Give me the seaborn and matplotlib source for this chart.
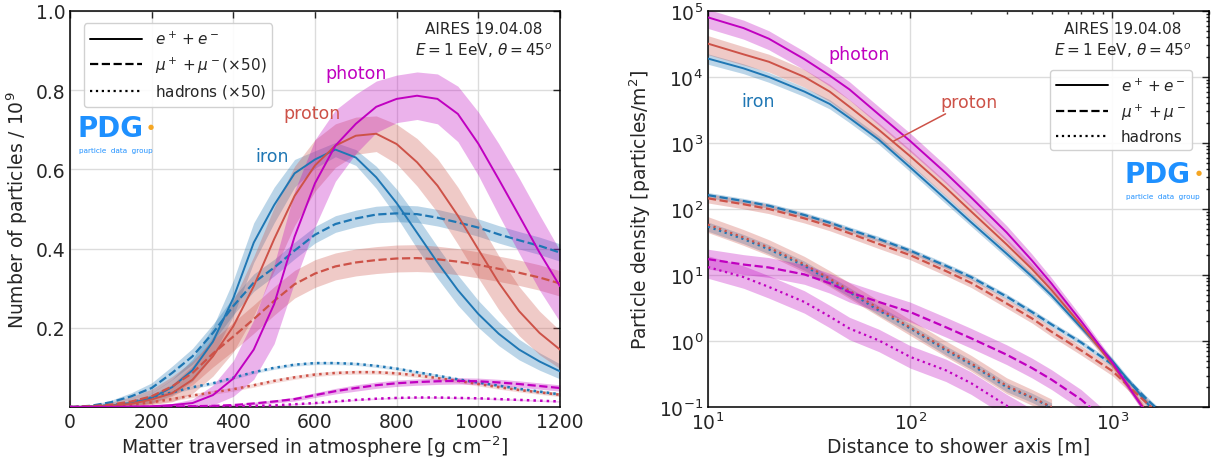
"""Air-shower longitudinal and lateral profiles (AIRES), seaborn version."""

import numpy as np
import matplotlib
matplotlib.use("Agg")
import matplotlib.pyplot as plt
from matplotlib.lines import Line2D
import seaborn as sns

# ---------------------------------------------------------------- data
# longitudinal profile, depth in g/cm^2, N / 1e9 (muons, hadrons x50)
depth = [0, 50, 100, 150, 200, 250, 300, 350, 400, 450, 500, 550, 600,
         650, 700, 750, 800, 850, 900, 950, 1000, 1050, 1100, 1150, 1200]

iron_ee = [0, 0.001, 0.004, 0.01, 0.023, 0.05, 0.093, 0.165, 0.275, 0.415, 0.51,
           0.59, 0.625, 0.65, 0.63, 0.58, 0.515, 0.44, 0.365, 0.295, 0.235,
           0.185, 0.145, 0.115, 0.09]
proton_ee = [0, 0.001, 0.003, 0.008, 0.019, 0.035, 0.069, 0.128, 0.204, 0.305,
             0.424, 0.533, 0.61, 0.66, 0.685, 0.69, 0.664, 0.618, 0.559, 0.483,
             0.398, 0.314, 0.242, 0.187, 0.145]
photon_ee = [0, 0, 0, 0.001, 0.002, 0.005, 0.01, 0.03, 0.072, 0.145, 0.26, 0.43,
             0.565, 0.66, 0.715, 0.758, 0.778, 0.786, 0.778, 0.74, 0.665, 0.575,
             0.483, 0.39, 0.305]
iron_ee_err = [0, 0.001, 0.003, 0.007, 0.013, 0.02, 0.028, 0.037, 0.045, 0.05,
               0.045, 0.035, 0.022, 0.018, 0.02, 0.028, 0.035, 0.04, 0.04, 0.038,
               0.034, 0.03, 0.026, 0.022, 0.019]
proton_ee_err = [0, 0.001, 0.003, 0.007, 0.013, 0.022, 0.035, 0.05, 0.065, 0.075,
                 0.08, 0.075, 0.065, 0.055, 0.047, 0.045, 0.05, 0.06, 0.068, 0.072,
                 0.072, 0.068, 0.062, 0.055, 0.048]
photon_ee_err = [0, 0, 0, 0.001, 0.002, 0.004, 0.01, 0.025, 0.045, 0.075, 0.1,
                 0.115, 0.11, 0.09, 0.075, 0.065, 0.06, 0.06, 0.063, 0.07, 0.08,
                 0.09, 0.095, 0.095, 0.09]

iron_mu = [0, 0.003, 0.012, 0.027, 0.048, 0.086, 0.128, 0.187, 0.255, 0.314,
           0.352, 0.395, 0.435, 0.462, 0.476, 0.486, 0.489, 0.487, 0.478, 0.466,
           0.453, 0.436, 0.421, 0.407, 0.39]
proton_mu = [0, 0.002, 0.006, 0.014, 0.027, 0.052, 0.086, 0.135, 0.178, 0.222,
             0.268, 0.31, 0.337, 0.355, 0.365, 0.371, 0.375, 0.376, 0.373, 0.367,
             0.359, 0.349, 0.339, 0.327, 0.312]
photon_mu = [0, 0, 0, 0, 0.001, 0.001, 0.002, 0.003, 0.005, 0.009, 0.014, 0.02,
             0.03, 0.04, 0.048, 0.055, 0.06, 0.063, 0.065, 0.066, 0.065, 0.062,
             0.058, 0.053, 0.048]
iron_mu_err = [0, 0.002, 0.005, 0.009, 0.013, 0.017, 0.02, 0.022, 0.022, 0.022,
               0.021, 0.021, 0.021, 0.021, 0.021, 0.021, 0.021, 0.021, 0.021,
               0.021, 0.022, 0.022, 0.022, 0.022, 0.022]
proton_mu_err = [0, 0.002, 0.006, 0.012, 0.018, 0.025, 0.03, 0.034, 0.036, 0.036,
                 0.036, 0.035, 0.035, 0.034, 0.034, 0.034, 0.034, 0.034, 0.033,
                 0.033, 0.033, 0.032, 0.032, 0.032, 0.032]
photon_mu_err = [0, 0, 0, 0, 0.001, 0.001, 0.001, 0.002, 0.002, 0.003, 0.004,
                 0.005, 0.006, 0.007, 0.008, 0.008, 0.008, 0.008, 0.008, 0.008,
                 0.008, 0.008, 0.008, 0.008, 0.008]

iron_had = [0, 0.001, 0.004, 0.012, 0.024, 0.037, 0.05, 0.06, 0.074, 0.088, 0.099,
            0.107, 0.111, 0.111, 0.109, 0.104, 0.097, 0.088, 0.079, 0.07, 0.062,
            0.054, 0.046, 0.039, 0.032]
proton_had = [0, 0, 0.002, 0.006, 0.012, 0.02, 0.029, 0.037, 0.045, 0.055, 0.066,
              0.075, 0.082, 0.086, 0.088, 0.088, 0.085, 0.08, 0.073, 0.066, 0.058,
              0.05, 0.043, 0.037, 0.031]
photon_had = [0, 0, 0, 0, 0, 0, 0.001, 0.001, 0.002, 0.003, 0.004, 0.007, 0.01,
              0.014, 0.018, 0.021, 0.023, 0.024, 0.024, 0.023, 0.022, 0.02, 0.018,
              0.016, 0.014]
had_err = {"iron": 0.004, "proton": 0.005, "photon": 0.002}

# lateral distribution, distance in m, density in particles/m^2
radius = [10, 15, 20, 30, 40, 50, 70, 100, 150, 200, 300, 400, 500, 700,
          1000, 1500, 2000]

photon_ee_r = [8.0e4, 5.5e4, 3.8e4, 1.86e4, 1.05e4, 6.5e3, 2.7e3, 1.07e3, 350,
               150, 44, 16.6, 7.4, 2.0, 0.47, 0.074, 0.019]
proton_ee_r = [3.2e4, 2.2e4, 1.7e4, 1.0e4, 6.0e3, 3.55e3, 1.58e3, 630, 210, 92,
               29, 12.3, 5.9, 1.75, 0.44, 0.079, 0.022]
iron_ee_r = [1.9e4, 1.35e4, 1.0e4, 6.0e3, 3.9e3, 2.4e3, 1.12e3, 427, 140, 63,
             21, 9.5, 4.9, 1.6, 0.5, 0.11, 0.04]
# relative spread of the e+e- densities (linear)
photon_ee_r_rel = [0.32, 0.32, 0.32, 0.31, 0.31, 0.31, 0.31, 0.31, 0.30, 0.29,
                   0.27, 0.25, 0.22, 0.18, 0.12, 0.12, 0.12]
proton_ee_r_rel = [0.32, 0.31, 0.30, 0.30, 0.29, 0.28, 0.27, 0.26, 0.25, 0.24,
                   0.22, 0.20, 0.18, 0.15, 0.13, 0.13, 0.13]
iron_ee_r_rel = [0.18, 0.17, 0.17, 0.16, 0.16, 0.15, 0.15, 0.14, 0.14, 0.13,
                 0.13, 0.12, 0.12, 0.11, 0.11, 0.11, 0.11]

iron_mu_r = [162, 132, 112, 81, 62, 49, 35, 23.4, 13.8, 9.3, 4.7, 2.75, 1.78,
             0.95, 0.44, 0.126, 0.056]
proton_mu_r = [145, 118, 100, 72, 55, 43, 29.5, 20, 11.5, 7.6, 3.7, 2.2, 1.38,
               0.72, 0.35, 0.11, 0.05]
photon_mu_r = [17.4, 14.4, 13.0, 10.2, 7.5, 5.5, 3.9, 2.75, 1.62, 1.1, 0.62,
               0.39, 0.26, 0.13, 0.05]

iron_had_r = [54, 35, 24.5, 13.8, 8.2, 5.5, 2.9, 1.55, 0.72, 0.44, 0.2, 0.138,
              0.098]
proton_had_r = [58, 37, 26, 14.5, 8.8, 5.8, 3.1, 1.6, 0.76, 0.46, 0.21, 0.14, 0.1]
photon_had_r = [13.2, 9.3, 6.6, 3.9, 2.35, 1.55, 1.02, 0.575, 0.36, 0.23, 0.105,
                0.063]
# band half-widths in decades
mu_r_err = {"iron": 0.04, "proton": 0.07, "photon": 0.15}
had_r_err = {"iron": 0.07, "proton": 0.12, "photon": 0.17}

primaries = ["iron", "proton", "photon"]
colors = {"iron": "#1f77b4", "proton": "#cd5248", "photon": "#c000c0"}
PDG_BLUE = "#1e90ff"

# ---------------------------------------------------------------- style
sns.set_style("whitegrid", {"grid.color": "#dcdcdc", "axes.edgecolor": "black",
                            "xtick.direction": "in", "ytick.direction": "in"})
plt.rcParams["font.family"] = ["DejaVu Sans"]
plt.rcParams["mathtext.fontset"] = "dejavusans"

fig = plt.figure(figsize=(12.11, 4.6), dpi=100)
ax1 = fig.add_axes([0.0578, 0.113, 0.4046, 0.861])
ax2 = fig.add_axes([0.5846, 0.113, 0.4137, 0.861])


def draw(ax, x, y, lo, hi, color, ls, lw, alpha=0.3):
    ax.fill_between(x, lo, hi, color=color, alpha=alpha, lw=0, zorder=1)
    sns.lineplot(x=x, y=y, ax=ax, color=color, linestyle=ls, lw=lw,
                 sort=False, legend=False, zorder=3)


def band_line(ax, x, y, err, color, ls, lw, alpha=0.3):
    x, y, err = (np.asarray(v, float) for v in (x, y, err))
    draw(ax, x, y, y - err, y + err, color, ls, lw, alpha)


def log_band_line(ax, x, y, err, color, ls, lw, alpha=0.3):
    y = np.asarray(y, float)
    x = np.asarray(x[:len(y)], float)
    f = 10 ** np.asarray(err, float)
    draw(ax, x, y, y / f, y * f, color, ls, lw, alpha)


def rel_band_line(ax, x, y, rel, color, ls, lw, alpha=0.3):
    x, y, rel = (np.asarray(v, float) for v in (x, y, rel))
    draw(ax, x, y, y * (1 - rel), y * (1 + rel), color, ls, lw, alpha)


def pdg_logo(ax, x, y):
    ax.text(x, y, "PDG", transform=ax.transAxes, color=PDG_BLUE, fontsize=20,
            fontweight="bold", ha="left", va="baseline")
    ax.text(x + 0.142, y + 0.025, "\u25cf", transform=ax.transAxes,
            color="#f5a623", fontsize=5, ha="left", va="center")
    ax.text(x + 0.002, y - 0.04, "particle  data  group", transform=ax.transAxes,
            color=PDG_BLUE, fontsize=5.2, ha="left", va="baseline")


def finish(ax):
    ax.tick_params(which="both", direction="in", top=True, right=True,
                   labelsize=13.5, width=1.0)
    ax.tick_params(which="major", length=5)
    ax.tick_params(which="minor", length=2.5)
    for sp in ax.spines.values():
        sp.set_color("black")
        sp.set_linewidth(1.1)
    ax.grid(True, which="major", color="#dcdcdc", lw=1)
    ax.grid(False, which="minor")


def make_legend(ax, labels, loc, anchor):
    handles = [Line2D([], [], color="black", ls="-", lw=1.4),
               Line2D([], [], color="black", ls="--", lw=1.6),
               Line2D([], [], color="black", ls=":", lw=1.6)]
    ax.legend(handles, labels, loc=loc, bbox_to_anchor=anchor, fontsize=11,
              frameon=True, framealpha=0.9, edgecolor="#cccccc",
              handlelength=3.4, borderaxespad=0.3)


# ---------------------------------------------------------------- left panel
ee = {"iron": (iron_ee, iron_ee_err), "proton": (proton_ee, proton_ee_err),
      "photon": (photon_ee, photon_ee_err)}
mu = {"iron": (iron_mu, iron_mu_err), "proton": (proton_mu, proton_mu_err),
      "photon": (photon_mu, photon_mu_err)}
had = {"iron": iron_had, "proton": proton_had, "photon": photon_had}

for p in primaries:
    c = colors[p]
    band_line(ax1, depth, ee[p][0], ee[p][1], c, "-", 1.4)
    band_line(ax1, depth, mu[p][0], mu[p][1], c, "--", 1.6)
    band_line(ax1, depth, had[p], [had_err[p]] * len(depth), c, ":", 1.8, alpha=0.2)

ax1.set_xlim(0, 1200)
ax1.set_ylim(0, 1.0)
ax1.set_xticks(range(0, 1201, 200))
ax1.set_yticks([0.2, 0.4, 0.6, 0.8, 1.0])
ax1.set_xlabel(r"Matter traversed in atmosphere [g cm$^{-2}$]", fontsize=13.5,
               labelpad=2)
ax1.set_ylabel(r"Number of particles / $10^9$", fontsize=13.5, labelpad=4)

ax1.text(495, 0.634, "iron", color=colors["iron"], fontsize=12.5, ha="center", va="center")
ax1.text(592, 0.743, "proton", color=colors["proton"], fontsize=12.5, ha="center", va="center")
ax1.text(700, 0.844, "photon", color=colors["photon"], fontsize=12.5, ha="center", va="center")
ax1.text(0.845, 0.975, "AIRES 19.04.08\n$E = 1$ EeV, $\\theta = 45^o$",
         transform=ax1.transAxes, ha="center", va="top", fontsize=11,
         linespacing=1.3)

make_legend(ax1, [r"$e^+ + e^-$", r"$\mu^+ + \mu^-(\times50)$",
                  r"hadrons ($\times$50)"], "upper left", (0.02, 0.98))
pdg_logo(ax1, 0.016, 0.684)
finish(ax1)

# ---------------------------------------------------------------- right panel
ax2.set_xscale("log")
ax2.set_yscale("log")
ee_r = {"iron": (iron_ee_r, iron_ee_r_rel), "proton": (proton_ee_r, proton_ee_r_rel),
        "photon": (photon_ee_r, photon_ee_r_rel)}
mu_r = {"iron": iron_mu_r, "proton": proton_mu_r, "photon": photon_mu_r}
had_r = {"iron": iron_had_r, "proton": proton_had_r, "photon": photon_had_r}

for p in primaries:
    c = colors[p]
    rel_band_line(ax2, radius, ee_r[p][0], ee_r[p][1], c, "-", 1.4)
    log_band_line(ax2, radius, mu_r[p], [mu_r_err[p]] * len(mu_r[p]), c, "--", 1.6)
    log_band_line(ax2, radius, had_r[p], [had_r_err[p]] * len(had_r[p]), c, ":", 1.6)

ax2.set_xlim(10, 3000)
ax2.set_ylim(0.1, 1e5)
ax2.set_xlabel("Distance to shower axis [m]", fontsize=13.5, labelpad=2)
ax2.set_ylabel(r"Particle density [particles/m$^2$]", fontsize=13.5, labelpad=4)

ax2.text(17.8, 4300, "iron", color=colors["iron"], fontsize=12.5, ha="center", va="center")
ax2.text(55.6, 2.2e4, "photon", color=colors["photon"], fontsize=12.5, ha="center", va="center")
ax2.annotate("proton", xy=(82, 1050), xytext=(195, 4240), color=colors["proton"],
             fontsize=12.5, ha="center", va="center",
             arrowprops=dict(arrowstyle="-", color=colors["proton"], lw=1.1,
                             shrinkA=0, shrinkB=0))
ax2.text(0.828, 0.975, "AIRES 19.04.08\n$E = 1$ EeV, $\\theta = 45^o$",
         transform=ax2.transAxes, ha="center", va="top", fontsize=11,
         linespacing=1.3)

make_legend(ax2, [r"$e^+ + e^-$", r"$\mu^+ + \mu^-$", "hadrons"],
            "upper right", (0.975, 0.862))
pdg_logo(ax2, 0.832, 0.568)
finish(ax2)

fig.savefig("out.png", dpi=100)
